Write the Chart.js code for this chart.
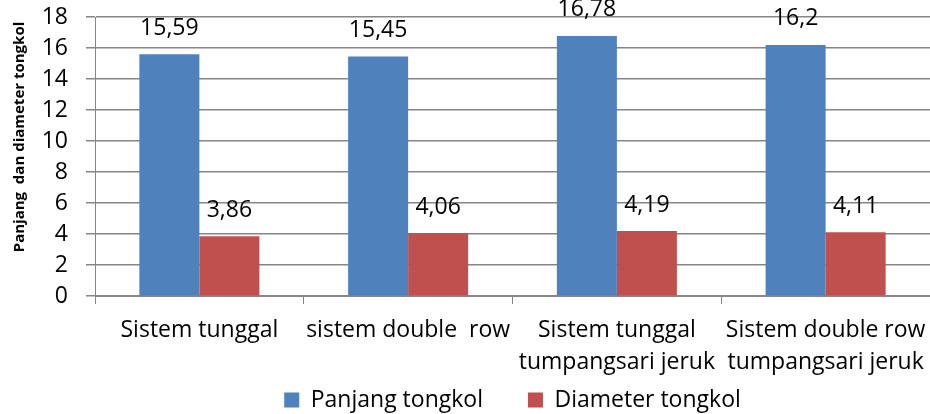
<!DOCTYPE html>
<html>
<head>
<meta charset="utf-8">
<script src="https://cdn.jsdelivr.net/npm/chart.js@4"></script>
<style>
  html, body { margin: 0; padding: 0; background: #fff; }
  #wrap { width: 930px; height: 414px; }
</style>
</head>
<body>
<div id="wrap"><canvas id="tongkolChart"></canvas></div>
<script>
const categories = [
  ["Sistem tunggal"],
  ["sistem double  row"],
  ["Sistem tunggal", "tumpangsari jeruk"],
  ["Sistem double row", "tumpangsari jeruk"],
];
const panjangTongkol = [15.59, 15.45, 16.78, 16.2];
const diameterTongkol = [3.86, 4.06, 4.19, 4.11];
const yTitle = "Panjang  dan diameter tongkol";

const FONT = "'Open Sans', sans-serif";
const GRID = "#868686";

// value labels above each bar, comma as decimal separator
const valueLabels = {
  id: "valueLabels",
  afterDatasetsDraw(chart) {
    const c = chart.ctx;
    c.save();
    c.font = "23px " + FONT;
    c.fillStyle = "#000";
    c.textAlign = "center";
    c.textBaseline = "middle";
    chart.data.datasets.forEach((ds, i) => {
      chart.getDatasetMeta(i).data.forEach((bar, j) => {
        const txt = String(ds.data[j]).replace(".", ",");
        c.fillText(txt, bar.x, bar.y - 26);
      });
    });
    c.restore();
  },
};

// rotated y axis title, placed like the original
const axisTitle = {
  id: "axisTitle",
  afterLayout(chart) {
    // let the two-line category labels run past the scale box
    chart.scales.x.bottom = chart.height;
  },
  afterDraw(chart) {
    const c = chart.ctx;
    c.save();
    c.translate(20, 137);
    c.rotate(-Math.PI / 2);
    c.font = "bold 15px " + FONT;
    c.fillStyle = "#000";
    c.textAlign = "center";
    c.textBaseline = "middle";
    c.fillText(yTitle, 0, 0);
    c.restore();
  },
};

const ctx = document.getElementById("tongkolChart").getContext("2d");

new Chart(ctx, {
  type: "bar",
  data: {
    labels: categories,
    datasets: [
      {
        label: "Panjang tongkol",
        data: panjangTongkol,
        backgroundColor: "#4F81BD",
        categoryPercentage: 0.575,
        barPercentage: 1,
      },
      {
        label: "Diameter tongkol",
        data: diameterTongkol,
        backgroundColor: "#C0504D",
        categoryPercentage: 0.575,
        barPercentage: 1,
      },
    ],
  },
  options: {
    responsive: true,
    maintainAspectRatio: false,
    animation: false,
    layout: {
      padding: { top: 17, right: 0, bottom: -7.5, left: 0 },
    },
    plugins: {
      legend: {
        position: "bottom",
        fullSize: false,
        labels: {
          color: "#000",
          font: { family: FONT, size: 23 },
          boxWidth: 15,
          boxHeight: 15,
          padding: 45,
        },
      },
      tooltip: { enabled: false },
    },
    scales: {
      x: {
        afterFit: (scale) => {
          scale.height = 47.5;
          scale.paddingLeft = 0;
          scale.paddingRight = 0;
        },
        grid: {
          offset: true,
          drawOnChartArea: false,
          drawTicks: true,
          tickLength: 8,
          color: GRID,
        },
        border: { color: GRID },
        ticks: {
          color: "#000",
          font: { family: FONT, size: 23, lineHeight: 1.39 },
          padding: 10,
          maxRotation: 0,
          autoSkip: false,
        },
      },
      y: {
        min: 0,
        max: 18,
        afterFit: (scale) => {
          scale.width = 95;
          scale.paddingTop = 0;
          scale.paddingBottom = 0;
        },
        grid: {
          drawOnChartArea: true,
          color: GRID,
          lineWidth: 1.5,
          tickLength: 9,
        },
        border: { color: GRID },
        ticks: {
          stepSize: 2,
          autoSkip: false,
          color: "#000",
          font: { family: FONT, size: 23 },
          padding: 18,
        },
      },
    },
  },
  plugins: [valueLabels, axisTitle],
});
</script>
</body>
</html>
